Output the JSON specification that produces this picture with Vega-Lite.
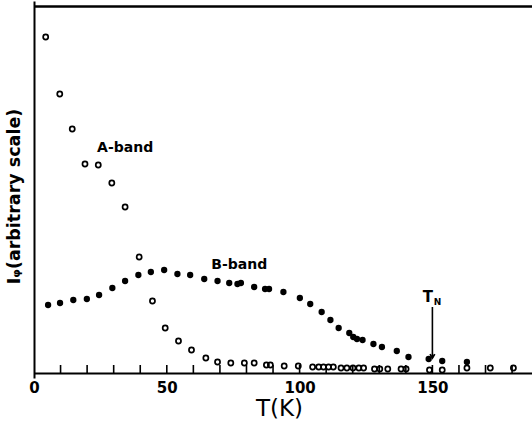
{
  "$schema": "https://vega.github.io/schema/vega-lite/v6.json",
  "width": 498,
  "height": 377,
  "autosize": {"type": "none"},
  "padding": {"left": 34, "top": 1, "right": 0, "bottom": 53},
  "background": "white",
  "config": {
    "view": {"stroke": null},
    "font": "DejaVu Sans"
  },
  "datasets": {
    "pts": [
      {"T": 4.4, "I": 336, "band": "A"}, {"T": 9.7, "I": 279, "band": "A"}, {"T": 14.4, "I": 244, "band": "A"},
      {"T": 19.2, "I": 209, "band": "A"}, {"T": 24.2, "I": 208, "band": "A"}, {"T": 29.3, "I": 190, "band": "A"},
      {"T": 34.3, "I": 166, "band": "A"}, {"T": 39.6, "I": 116, "band": "A"}, {"T": 44.6, "I": 72, "band": "A"},
      {"T": 49.4, "I": 45, "band": "A"}, {"T": 54.4, "I": 32, "band": "A"}, {"T": 59.3, "I": 23, "band": "A"},
      {"T": 64.7, "I": 15, "band": "A"}, {"T": 69.1, "I": 11, "band": "A"}, {"T": 74.1, "I": 10, "band": "A"},
      {"T": 79.2, "I": 10, "band": "A"}, {"T": 82.9, "I": 10, "band": "A"}, {"T": 87.5, "I": 8, "band": "A"},
      {"T": 89.0, "I": 8, "band": "A"}, {"T": 94.2, "I": 7, "band": "A"}, {"T": 99.5, "I": 7, "band": "A"},
      {"T": 104.9, "I": 6, "band": "A"}, {"T": 107.2, "I": 6, "band": "A"}, {"T": 109.0, "I": 6, "band": "A"},
      {"T": 110.9, "I": 6, "band": "A"}, {"T": 112.7, "I": 6, "band": "A"}, {"T": 115.6, "I": 5, "band": "A"},
      {"T": 117.8, "I": 5, "band": "A"}, {"T": 120.1, "I": 5, "band": "A"}, {"T": 122.3, "I": 5, "band": "A"},
      {"T": 124.1, "I": 5, "band": "A"}, {"T": 128.2, "I": 4, "band": "A"}, {"T": 130.2, "I": 4, "band": "A"},
      {"T": 133.2, "I": 4, "band": "A"}, {"T": 138.2, "I": 4, "band": "A"}, {"T": 140.1, "I": 4, "band": "A"},
      {"T": 148.9, "I": 3, "band": "A"}, {"T": 153.7, "I": 3, "band": "A"}, {"T": 163.0, "I": 5, "band": "A"},
      {"T": 171.8, "I": 5, "band": "A"}, {"T": 180.5, "I": 5, "band": "A"},
      {"T": 5.3, "I": 68, "band": "B"}, {"T": 9.8, "I": 70, "band": "B"}, {"T": 14.8, "I": 73, "band": "B"},
      {"T": 19.9, "I": 74, "band": "B"}, {"T": 24.5, "I": 78, "band": "B"}, {"T": 29.5, "I": 85, "band": "B"},
      {"T": 34.3, "I": 92, "band": "B"}, {"T": 39.3, "I": 98, "band": "B"}, {"T": 44.0, "I": 101, "band": "B"},
      {"T": 49.0, "I": 103, "band": "B"}, {"T": 54.0, "I": 99, "band": "B"}, {"T": 58.8, "I": 98, "band": "B"},
      {"T": 64.1, "I": 94, "band": "B"}, {"T": 69.1, "I": 92, "band": "B"}, {"T": 73.5, "I": 90, "band": "B"},
      {"T": 76.6, "I": 89, "band": "B"}, {"T": 77.9, "I": 90, "band": "B"}, {"T": 82.9, "I": 86, "band": "B"},
      {"T": 87.0, "I": 84, "band": "B"}, {"T": 88.5, "I": 84, "band": "B"}, {"T": 93.9, "I": 81, "band": "B"},
      {"T": 100.1, "I": 75, "band": "B"}, {"T": 104.0, "I": 69, "band": "B"}, {"T": 108.3, "I": 61, "band": "B"},
      {"T": 111.6, "I": 53, "band": "B"}, {"T": 114.7, "I": 45, "band": "B"}, {"T": 118.7, "I": 40, "band": "B"},
      {"T": 120.2, "I": 36, "band": "B"}, {"T": 121.6, "I": 34, "band": "B"}, {"T": 123.7, "I": 33, "band": "B"},
      {"T": 127.8, "I": 29, "band": "B"}, {"T": 131.0, "I": 26, "band": "B"}, {"T": 136.6, "I": 22, "band": "B"},
      {"T": 141.0, "I": 16, "band": "B"}, {"T": 148.6, "I": 14, "band": "B"}, {"T": 153.7, "I": 12, "band": "B"},
      {"T": 163.0, "I": 11, "band": "B"}
    ],
    "labels": [
      {"T": 34.3, "I": 225, "text": "A-band", "size": 14},
      {"T": 77.3, "I": 108, "text": "B-band", "size": 14},
      {"T": 148.3, "I": 76, "text": "T", "size": 15},
      {"T": 151.9, "I": 71, "text": "N", "size": 9}
    ],
    "arrow": [
      {"T": 150, "I": 66, "I2": 15}
    ],
    "tk": [
      {"T": 10, "I": 0}, {"T": 20, "I": 0}, {"T": 30, "I": 0}, {"T": 40, "I": 0}, {"T": 50, "I": 0},
      {"T": 60, "I": 0}, {"T": 70, "I": 0}, {"T": 80, "I": 0}, {"T": 90, "I": 0}, {"T": 100, "I": 0},
      {"T": 110, "I": 0}, {"T": 120, "I": 0}, {"T": 130, "I": 0}, {"T": 140, "I": 0}, {"T": 150, "I": 0},
      {"T": 160, "I": 0}, {"T": 170, "I": 0}, {"T": 180, "I": 0}
    ],
    "edge": [
      {"T": 0, "T2": 187.5, "I": 366.5}
    ]
  },
  "layer": [
    {
      "data": {"name": "pts"},
      "transform": [{"filter": "datum.band === 'A'"}],
      "mark": {"type": "point", "filled": false, "color": "black", "strokeWidth": 1.7, "size": 26, "opacity": 1},
      "encoding": {
        "x": {
          "field": "T", "type": "quantitative",
          "scale": {"domain": [0, 187.5], "nice": false},
          "axis": {
            "values": [0, 50, 100, 150],
            "offset": -5,
            "grid": false, "ticks": false, "labelOverlap": false,
            "domainColor": "black", "domainWidth": 2,
            "labelColor": "black", "labelFontSize": 15, "labelFontWeight": "bold", "labelPadding": 7,
            "labelFlush": false,
            "title": "T(K)", "titleFontSize": 23, "titleFontWeight": "normal", "titleColor": "black",
            "titleX": 245, "titleY": 35, "titleBaseline": "middle", "titleAlign": "center"
          }
        },
        "y": {
          "field": "I", "type": "quantitative",
          "scale": {"domain": [0, 367], "nice": false},
          "axis": {
            "ticks": false, "labels": false, "grid": false,
            "domainColor": "black", "domainWidth": 2,
            "title": "Iᵩ(arbitrary scale)", "titleFontSize": 17.5, "titleFontWeight": "bold", "titleColor": "black",
            "titleAngle": -90, "titleX": -20, "titleY": 195, "titleBaseline": "middle", "titleAlign": "center"
          }
        }
      }
    },
    {
      "data": {"name": "pts"},
      "transform": [{"filter": "datum.band === 'B'"}],
      "mark": {"type": "point", "filled": true, "color": "black", "size": 40, "opacity": 1, "shape": "circle"},
      "encoding": {
        "x": {"field": "T", "type": "quantitative"},
        "y": {"field": "I", "type": "quantitative"}
      }
    },
    {
      "data": {"name": "labels"},
      "mark": {"type": "text", "color": "black", "fontWeight": "bold", "align": "center", "baseline": "middle"},
      "encoding": {
        "x": {"field": "T", "type": "quantitative"},
        "y": {"field": "I", "type": "quantitative"},
        "text": {"field": "text"},
        "size": {"field": "size", "type": "quantitative", "scale": null}
      }
    },
    {
      "data": {"name": "arrow"},
      "mark": {"type": "rule", "color": "black", "strokeWidth": 1.6},
      "encoding": {
        "x": {"field": "T", "type": "quantitative"},
        "y": {"field": "I", "type": "quantitative"},
        "y2": {"field": "I2"}
      }
    },
    {
      "data": {"name": "tk"},
      "mark": {"type": "tick", "orient": "vertical", "color": "black", "thickness": 1.6, "size": 8, "yOffset": -4, "opacity": 1},
      "encoding": {
        "x": {"field": "T", "type": "quantitative"},
        "y": {"field": "I", "type": "quantitative"}
      }
    },
    {
      "data": {"name": "edge"},
      "mark": {"type": "bar", "color": "black", "height": 2.5, "opacity": 1},
      "encoding": {
        "x": {"field": "T", "type": "quantitative"},
        "x2": {"field": "T2"},
        "y": {"field": "I", "type": "quantitative"}
      }
    },
    {
      "data": {"name": "arrow"},
      "mark": {"type": "point", "shape": "M -0.6 -1 L 0 0 L 0.6 -1", "filled": false, "color": "black", "strokeWidth": 1.8, "size": 60, "opacity": 1},
      "encoding": {
        "x": {"field": "T", "type": "quantitative"},
        "y": {"field": "I2", "type": "quantitative"}
      }
    }
  ]
}
